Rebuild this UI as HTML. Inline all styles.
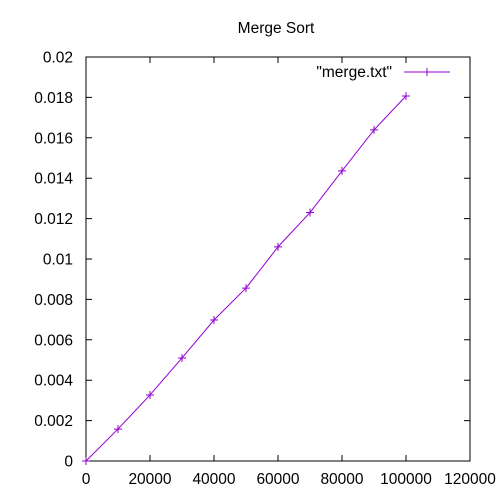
<!DOCTYPE html>
<html><head><meta charset="utf-8"><style>
body{margin:0;background:#fff}
svg{display:block;font-family:"Liberation Sans",sans-serif;font-size:15.5px}
</style></head><body>
<svg id="chart" width="500" height="500">
<text x="276" y="33" text-anchor="middle">Merge Sort</text>
<rect x="86" y="57" width="384" height="404" fill="none" stroke="#000"/>
<g id="axes"></g>
<g id="series"></g>
<g>
<text x="392" y="77" text-anchor="end">"merge.txt"</text>
<line x1="404" y1="72" x2="450" y2="72" stroke="#9400d3"/>
<path d="M423,72h8M427,68v8" stroke="#9400d3"/>
</g>
</svg>
<script>
const xValues=[0,10000,20000,30000,40000,50000,60000,70000,80000,90000,100000];
const yValues=[0,0.00158,0.00327,0.0051,0.00698,0.00856,0.0106,0.0123,0.01436,0.01639,0.01807];
const xTicks=[0,20000,40000,60000,80000,100000,120000];
const yTicks=[0,0.002,0.004,0.006,0.008,0.01,0.012,0.014,0.016,0.018,0.02];
const yTickLabels=["0","0.002","0.004","0.006","0.008","0.01","0.012","0.014","0.016","0.018","0.02"];
const NS="http://www.w3.org/2000/svg";
const X0=86,X1=470,Y0=461,Y1=57;
const sx=v=>X0+v/120000*(X1-X0);
const sy=v=>Y0-v/0.02*(Y0-Y1);
const axes=document.getElementById('axes'),series=document.getElementById('series');
function mk(tag,attrs,parent){const e=document.createElementNS(NS,tag);for(const k in attrs)e.setAttribute(k,attrs[k]);parent.appendChild(e);return e;}
xTicks.forEach(v=>{
  const x=sx(v);
  const t=mk('path',{d:`M${x},${Y0}v-6M${x},${Y1}v6`,stroke:'#000'},axes);
  
  
  const l=mk('text',{x:x,y:484,'text-anchor':'middle'},axes);l.textContent=v;
  
  
});
yTicks.forEach((v,i)=>{
  const y=sy(v);
  const t=mk('path',{d:`M${X0},${y}h6M${X1},${y}h-6`,stroke:'#000'},axes);
  
  
  const l=mk('text',{x:73,y:y+5.5,'text-anchor':'end'},axes);l.textContent=yTickLabels[i];
  
  
});
const pts=xValues.map((v,i)=>sx(v)+','+sy(yValues[i])).join(' ');
const line=mk('polyline',{points:pts,fill:'none',stroke:'#9400d3'},series);


xValues.forEach((v,i)=>{
  const x=sx(v),y=sy(yValues[i]);
  const m=mk('path',{d:`M${x-4},${y}h8M${x},${y-4}v8`,stroke:'#9400d3'},series);
  
  
});
</script>
</body></html>
